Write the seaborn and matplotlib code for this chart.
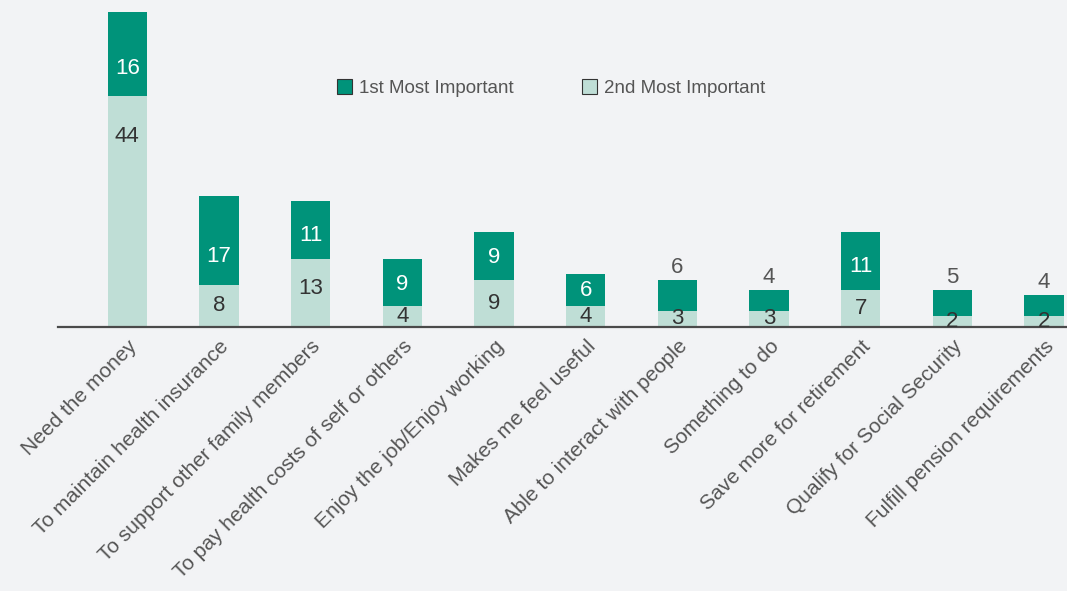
import matplotlib
matplotlib.use("Agg")
import matplotlib.pyplot as plt
import matplotlib.patches as mpatches
import seaborn as sns

# Reasons for working, share of respondents (%)
reasons = [
    "Need the money",
    "To maintain health insurance",
    "To support other family members",
    "To pay health costs of self or others",
    "Enjoy the job/Enjoy working",
    "Makes me feel useful",
    "Able to interact with people",
    "Something to do",
    "Save more for retirement",
    "Qualify for Social Security",
    "Fulfill pension requirements",
]
first_most = [16, 17, 11, 9, 9, 6, 6, 4, 11, 5, 4]
second_most = [44, 8, 13, 4, 9, 4, 3, 3, 7, 2, 2]
totals = [a + b for a, b in zip(first_most, second_most)]

dark = "#00937A"
light = "#BFDED6"
bg = "#F2F3F5"
text_gray = "#555555"

sns.set_style("white")
plt.rcParams["font.family"] = ["Liberation Sans", "DejaVu Sans"]

fig = plt.figure(figsize=(10.67, 5.91), dpi=100)
fig.patch.set_facecolor(bg)
ax = fig.add_axes([0.054, 0.447, 0.946, 0.553])
ax.set_facecolor(bg)

# stacked bars: total in dark, 2nd most important drawn over it in light
sns.barplot(x=reasons, y=totals, color=dark, width=0.43, saturation=1,
            linewidth=0, ax=ax)
sns.barplot(x=reasons, y=second_most, color=light, width=0.43, saturation=1,
            linewidth=0, ax=ax)

for i, (f, s, t) in enumerate(zip(first_most, second_most, totals)):
    # light segment label, kept near the top of tall segments
    y_light = s * 0.935 - 4.8 if s > 10 else s / 2
    ax.text(i, y_light, str(s), ha="center", va="center",
            fontsize=16, color="#333333")
    # dark segment label, placed above the bar when the bar is short
    if s <= 3:
        ax.text(i, t + 0.4, str(f), ha="center", va="bottom",
                fontsize=16, color=text_gray)
    else:
        shift = (f - 8) * 0.35 if f > 8 else 0
        ax.text(i, s + f / 2 - shift, str(f), ha="center", va="center",
                fontsize=16, color="white")

ax.set_xlim(-0.76, 10.25)
ax.set_ylim(0, 62.3)
ax.set_yticks([])
ax.set_xlabel("")
ax.set_ylabel("")
for side in ["top", "right", "left"]:
    ax.spines[side].set_visible(False)
ax.spines["bottom"].set_color("#4a4a4a")
ax.spines["bottom"].set_linewidth(1.6)

ax.tick_params(axis="x", length=0, pad=7)
plt.setp(ax.get_xticklabels(), rotation=45, ha="right",
         rotation_mode="anchor", fontsize=15, color=text_gray)

handles = [
    mpatches.Patch(facecolor=dark, edgecolor="#333333", linewidth=0.8,
                   label="1st Most Important"),
    mpatches.Patch(facecolor=light, edgecolor="#333333", linewidth=0.8,
                   label="2nd Most Important"),
]
leg = ax.legend(handles=handles, ncol=2, loc="center left",
                bbox_to_anchor=(0.26, 0.73), frameon=False,
                fontsize=13.5, handlelength=0.8, handleheight=0.8,
                handletextpad=0.4, columnspacing=3.6)
for t in leg.get_texts():
    t.set_color(text_gray)

plt.savefig("out.png", dpi=100, facecolor=bg)
